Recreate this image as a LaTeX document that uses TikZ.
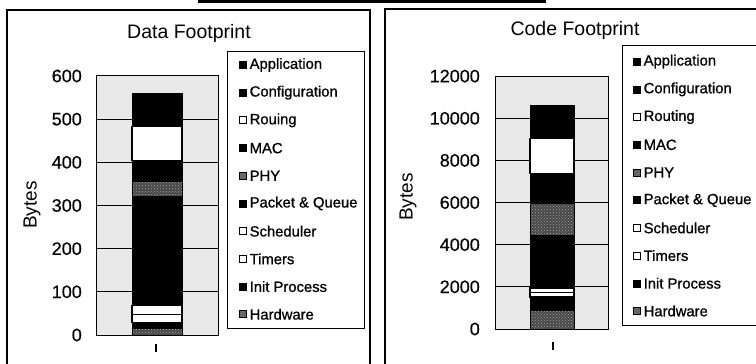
\documentclass[tikz,border=0pt]{standalone}
\usepackage{fontspec}
\setmainfont{Liberation Sans}
\newfontfamily\legfont{Liberation Sans}[FakeBold=0.9]
\newfontfamily\tickfont{Liberation Sans}[FakeBold=0.4]
\usetikzlibrary{patterns}
\begin{document}
\begin{tikzpicture}[x=1pt,y=-1pt,
  panel/.style={draw=black,line width=1.3pt},
  plotbg/.style={fill=black!9,draw=black,line width=1pt},
  gridln/.style={draw=black,line width=1pt},
  segblk/.style={fill=black,draw=black,line width=0.8pt},
  segwht/.style={fill=white,draw=black,line width=1.1pt},
  segspk/.style={preaction={fill=black!72},pattern=crosshatch dots,pattern color=black!35,draw=black,line width=0.8pt},
  tlab/.style={font=\tickfont\fontsize{18}{18}\selectfont,anchor=east,inner sep=0pt},
  ylab/.style={font=\fontsize{19}{19}\selectfont,rotate=90,inner sep=0pt},
  ttl/.style={font=\fontsize{19.5}{20}\selectfont,inner sep=0pt},
  legbox/.style={draw=black,fill=white,line width=1pt},
  legtxt/.style={font=\legfont\fontsize{14.8}{15}\selectfont,anchor=west,inner sep=0pt},
  mkblk/.style={fill=black,draw=black,minimum size=7pt,inner sep=0pt,line width=0.6pt},
  mkwht/.style={fill=white,draw=black,minimum size=7pt,inner sep=0pt,line width=1pt},
  mkspk/.style={fill=black!60,draw=black,minimum size=7pt,inner sep=0pt,line width=0.8pt},
  cattick/.style={line width=1.6pt}]
\useasboundingbox (0,0) rectangle (756,364);
\clip (0,0) rectangle (756,364);
\fill[white] (0,0) rectangle (756,364);
% top bar
\fill[black] (198,0) rectangle (546,3);
% panels
\draw[panel] (7,10) rectangle (370,380);
\draw[panel] (385,9) rectangle (770,380);
% ===== Data Footprint =====
\node[ttl] (dtitle) at (189,33) {Data Footprint};
\node[ylab] (dylab) at (32,205) {Bytes};
\begin{scope}[shift={(0,335)},y=0.4317pt]
  \draw[plotbg] (96,0) rectangle (218,600);
  \foreach \v in {100,200,...,500} \draw[gridln] (96,\v) -- (218,\v);
  \foreach \v in {0,100,...,600} \node[tlab] (dt\v) at (82,\v) {\v};
  \draw[segspk] (132,0) rectangle (182,15.5);
  \draw[segblk] (132,15.5) rectangle (182,29);
  \draw[segwht] (132,29) rectangle (182,46.5);
  \draw[segwht] (132,46.5) rectangle (182,69);
  \draw[segblk] (132,69) rectangle (182,320);
  \draw[segspk] (132,320) rectangle (182,355);
  \draw[segblk] (132,355) rectangle (182,404);
  \draw[segwht] (132,404) rectangle (182,483);
  \draw[segblk] (132,483) rectangle (182,522);
  \draw[segblk] (132,522) rectangle (182,560);
\end{scope}
\coordinate (dta) at (156,344);
\coordinate (dtb) at (156,352);
\draw[cattick] (dta) -- (dtb);
\draw[legbox] (227,51) rectangle (364,328);
\foreach \i/\t/\s in {0/Application/mkblk,1/Configuration/mkblk,2/Rouing/mkwht,3/MAC/mkblk,4/PHY/mkspk,5/Packet \& Queue/mkblk,6/Scheduler/mkwht,7/Timers/mkwht,8/Init Process/mkblk,9/Hardware/mkspk}{
  \node[\s] (dm\i) at (243,65+27.7*\i) {};
  \node[legtxt] (dl\i) at (249.5,65+27.7*\i) {\t};
}
% ===== Code Footprint =====
\node[ttl] (ctitle) at (575,30) {Code Footprint};
\node[ylab] (cylab) at (408,197) {Bytes};
\begin{scope}[shift={(0,329)},y=0.02108pt]
  \draw[plotbg] (495,0) rectangle (608,12000);
  \foreach \v in {2000,4000,...,10000} \draw[gridln] (495,\v) -- (608,\v);
  \foreach \v in {0,2000,...,12000} \node[tlab] (ct\v) at (480,\v) {\v};
  \draw[segspk] (530,0) rectangle (574,900);
  \draw[segblk] (530,900) rectangle (574,1520);
  \draw[segwht] (530,1520) rectangle (574,1750);
  \draw[segwht] (530,1750) rectangle (574,1945);
  \draw[segblk] (530,1945) rectangle (574,4450);
  \draw[segspk] (530,4450) rectangle (574,5970);
  \draw[segblk] (530,5970) rectangle (574,7390);
  \draw[segwht] (530,7390) rectangle (574,9050);
  \draw[segblk] (530,9050) rectangle (574,9850);
  \draw[segblk] (530,9850) rectangle (574,10620);
\end{scope}
\coordinate (cta) at (553,342);
\coordinate (ctb) at (553,350);
\draw[cattick] (cta) -- (ctb);
\draw[legbox] (622,45) rectangle (770,325);
\foreach \i/\t/\s in {0/Application/mkblk,1/Configuration/mkblk,2/Routing/mkwht,3/MAC/mkblk,4/PHY/mkspk,5/Packet \& Queue/mkblk,6/Scheduler/mkwht,7/Timers/mkwht,8/Init Process/mkblk,9/Hardware/mkspk}{
  \node[\s] (cm\i) at (637,61.7+27.7*\i) {};
  \node[legtxt] (cl\i) at (643.5,61.7+27.7*\i) {\t};
}
\end{tikzpicture}
\end{document}
